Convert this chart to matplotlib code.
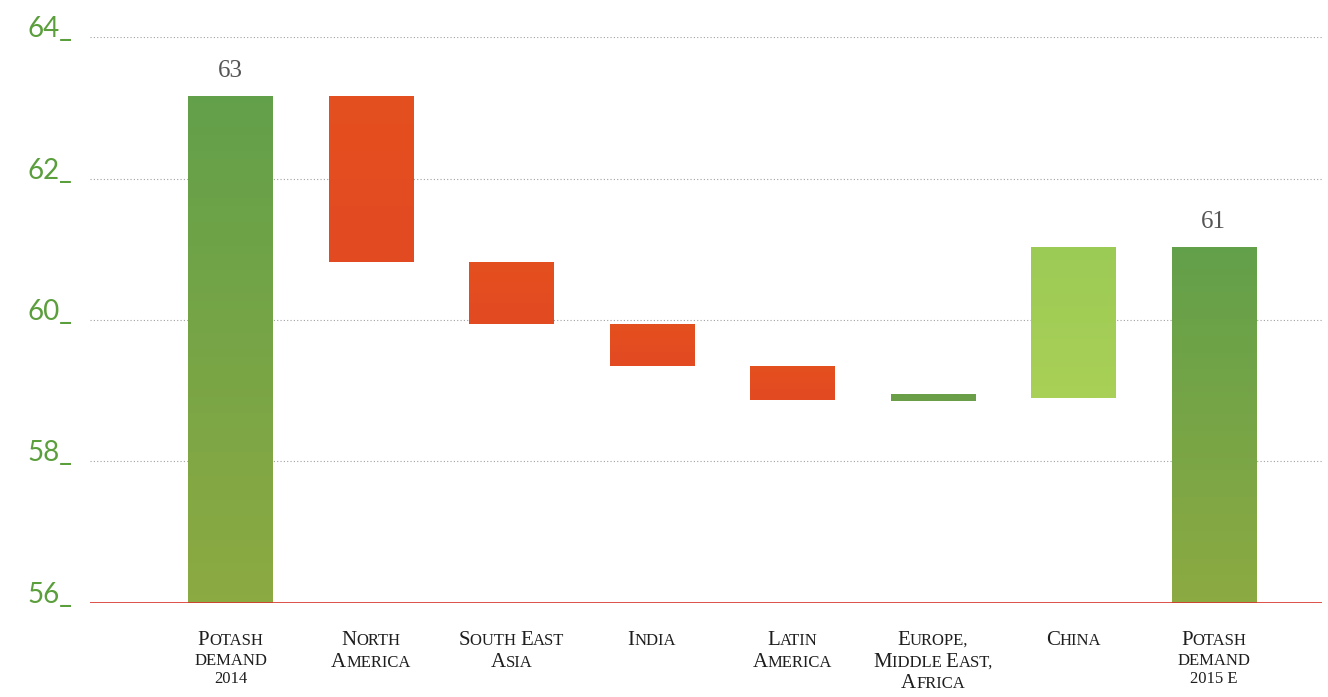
import numpy as np
import matplotlib.pyplot as plt
from matplotlib.offsetbox import TextArea, HPacker, VPacker, AnnotationBbox
from matplotlib.colors import LinearSegmentedColormap

# data (million tonnes KCl)
categories = ["Potash\ndemand\n2014", "North\nAmerica", "South East\nAsia", "India",
              "Latin\nAmerica", "Europe,\nMiddle East,\nAfrica", "China", "Potash\ndemand\n2015 e"]
bar_bottoms = [56.0, 60.82, 59.94, 59.35, 58.87, 58.86, 58.90, 56.0]
bar_tops = [63.17, 63.17, 60.82, 59.94, 59.35, 58.95, 61.03, 61.03]
bar_kinds = ["total", "down", "down", "down", "down", "up_dark", "up", "total"]
value_labels = {0: "63", 7: "61"}
y_ticks = [56, 58, 60, 62, 64]

# colours (top, bottom) per bar kind
palette = {
    "total": ("#63a04a", "#8caa42"),
    "down": ("#e5501f", "#e24a22"),
    "up": ("#9ccb55", "#a9d057"),
    "up_dark": ("#6a9f48", "#6a9f48"),
}


def small_caps(text, big=15, small=12):
    """Fake small caps: capitals large, rest as smaller capitals"""
    props = dict(family="Liberation Serif", color="#1e1e1e")
    rows = []
    for line in text.split("\n"):
        pieces = []
        cur, cur_big = "", None
        for ch in line:
            is_big = ch.isupper()
            if cur and is_big != cur_big:
                pieces.append((cur, cur_big))
                cur = ""
            cur += ch.upper()
            cur_big = is_big
        if cur:
            pieces.append((cur, cur_big))
        areas = [TextArea(s, textprops=dict(props, fontsize=big if b else small))
                 for s, b in pieces]
        rows.append(HPacker(children=areas, align="baseline", pad=0, sep=0))
    return VPacker(children=rows, align="center", pad=0, sep=2)


fig = plt.figure(figsize=(13.28, 6.97), dpi=100)
ax = fig.add_axes([0.0678, 0.1349, 0.9277, 0.812])

x = np.arange(len(categories))
width = 0.6
for i in x:
    lo, hi = bar_bottoms[i], bar_tops[i]
    top_c, bot_c = palette[bar_kinds[i]]
    bar = ax.bar(i, hi - lo, bottom=lo, width=width, color=top_c, edgecolor="none", zorder=2)[0]
    cmap = LinearSegmentedColormap.from_list("g", [bot_c, top_c])
    grad = np.linspace(0, 1, 64).reshape(-1, 1)
    im = ax.imshow(grad, cmap=cmap, aspect="auto", origin="lower",
                   extent=(i - width / 2, i + width / 2, lo, hi), zorder=3)
    im.set_clip_path(bar)

for i, txt in value_labels.items():
    ax.text(i, bar_tops[i] + 0.2, txt, ha="center", va="bottom", fontsize=18,
            family="Liberation Serif", color="#555555")

ax.set_xlim(-1.0, 7.77)
ax.set_ylim(56, 64)
ax.set_yticks(y_ticks)
ax.set_yticklabels([f"{v}_" for v in y_ticks], fontsize=20, family="Lato", color="#5b9e3c")
for lbl in ax.get_yticklabels():
    lbl.set_verticalalignment("baseline")
ax.tick_params(axis="y", length=0, pad=13)
ax.tick_params(axis="x", length=0, labelbottom=False)
for side in ["top", "right", "left", "bottom"]:
    ax.spines[side].set_visible(False)

for v in y_ticks[1:]:
    ax.axhline(v, color="#a0a0a0", linestyle=(0, (1, 2)), linewidth=0.8, zorder=1)
ax.axhline(56, color="#d8322a", linewidth=1.2, zorder=4)

for i, name in enumerate(categories):
    ab = AnnotationBbox(small_caps(name), (i, 56), xycoords="data",
                        xybox=(0, -20), boxcoords="offset points",
                        box_alignment=(0.5, 1), frameon=False, annotation_clip=False)
    ax.add_artist(ab)

plt.savefig("out.png", dpi=100)
